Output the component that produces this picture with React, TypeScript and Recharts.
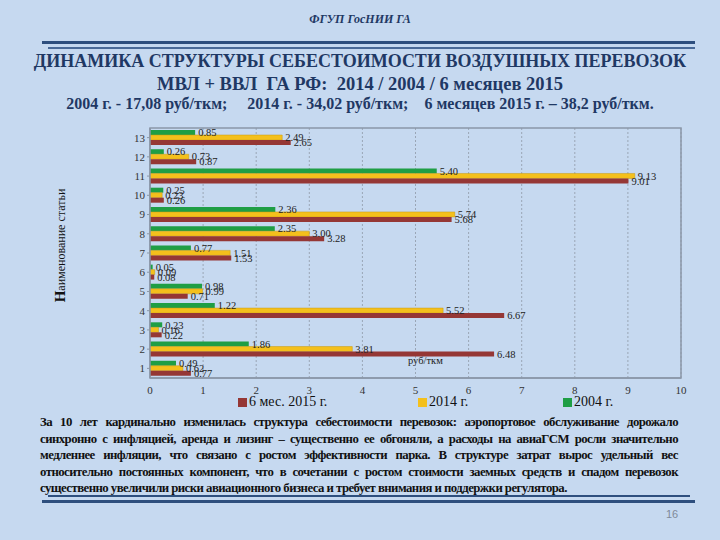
import React from 'react';
import { BarChart, Bar, XAxis, YAxis, CartesianGrid, LabelList, ReferenceArea } from 'recharts';

const categories = ['1', '2', '3', '4', '5', '6', '7', '8', '9', '10', '11', '12', '13'];
const values2004 = [0.49, 1.86, 0.23, 1.22, 0.98, 0.05, 0.77, 2.35, 2.36, 0.25, 5.4, 0.26, 0.85];
const values2014 = [0.62, 3.81, 0.16, 5.52, 0.99, 0.09, 1.51, 3.0, 5.74, 0.23, 9.13, 0.73, 2.49];
const values2015 = [0.77, 6.48, 0.22, 6.67, 0.71, 0.08, 1.53, 3.28, 5.68, 0.26, 9.01, 0.87, 2.65];
const xTicks = [0, 1, 2, 3, 4, 5, 6, 7, 8, 9, 10];

const legendItems = [
  { label: '6 мес. 2015 г.', color: '#953735' },
  { label: '2014 г.', color: '#f4c01c' },
  { label: '2004 г.', color: '#1f9e45' },
];

const paragraphLines = [
  'За 10 лет кардинально изменилась структура себестоимости перевозок: аэропортовое обслуживание дорожало',
  'синхронно с инфляцией, аренда и лизинг – существенно ее обгоняли, а расходы на авиаГСМ росли значительно',
  'медленнее инфляции, что связано с ростом эффективности парка. В структуре затрат вырос удельный вес',
  'относительно постоянных компонент, что в сочетании с ростом стоимости заемных средств и спадом перевозок',
  'существенно увеличили риски авиационного бизнеса и требует внимания и поддержки регулятора.',
];

const data = categories.map((c, i) => ({
  cat: c,
  v2004: values2004[i],
  v2014: values2014[i],
  v2015: values2015[i],
}));

const serif = '"Liberation Serif", "DejaVu Serif", serif';
const navy = '#1f3864';
const fmt = (v: any) => Number(v).toFixed(2);

export default function App() {
  return (
    <div
      style={{
        position: 'fixed',
        left: 0,
        top: 0,
        width: 720,
        height: 540,
        background: '#c6d9f0',
        fontFamily: serif,
        overflow: 'hidden',
      }}
    >
      <div style={{ position: 'absolute', top: 12, left: 0, width: 720, textAlign: 'center', fontSize: 12, fontStyle: 'italic', fontWeight: 'bold', color: navy }}>
        ФГУП ГосНИИ ГА
      </div>
      <div style={{ position: 'absolute', top: 41, left: 42, width: 653, height: 3, background: '#2e4f7e' }} />
      <div style={{ position: 'absolute', top: 47, left: 48, width: 647, height: 2, background: '#4a6a98' }} />

      <div style={{ position: 'absolute', top: 51, left: 0, width: 720, textAlign: 'center', fontSize: 18, fontWeight: 'bold', color: navy, whiteSpace: 'nowrap' }}>
        ДИНАМИКА СТРУКТУРЫ СЕБЕСТОИМОСТИ ВОЗДУШНЫХ ПЕРЕВОЗОК
      </div>
      <div style={{ position: 'absolute', top: 74, left: 0, width: 720, textAlign: 'center', fontSize: 18.5, fontWeight: 'bold', color: navy, whiteSpace: 'pre' }}>
        {'МВЛ + ВВЛ  ГА РФ:  2014 / 2004 / 6 месяцев 2015'}
      </div>
      <div style={{ position: 'absolute', top: 95, left: 0, width: 720, textAlign: 'center', fontSize: 16, fontWeight: 'bold', color: navy, whiteSpace: 'pre' }}>
        {'2004 г. - 17,08 руб/ткм;     2014 г. - 34,02 руб/ткм;    6 месяцев 2015 г. – 38,2 руб/ткм.'}
      </div>

      <div style={{ position: 'absolute', left: 0, top: 0 }}>
        <BarChart
          width={720}
          height={420}
          data={data}
          layout="vertical"
          margin={{ top: 128, right: 39, bottom: 22, left: 120 }}
          barCategoryGap={2}
          barGap={0}
        >
          <CartesianGrid horizontal={false} vertical={true} stroke="#9aa6b6" strokeDasharray="2 2" />
          <ReferenceArea x1={0} x2={10} fill="none" stroke="#8b97a8" strokeWidth={1.5} ifOverflow="visible" />
          <XAxis
            type="number"
            domain={[0, 10]}
            ticks={xTicks}
            height={20}
            tick={{ fontSize: 11, fill: '#333', fontFamily: serif }}
            axisLine={{ stroke: '#8b97a8', strokeWidth: 1.5 }}
            tickLine={false}
            tickMargin={2}
          />
          <YAxis
            type="category"
            dataKey="cat"
            reversed
            width={30}
            tick={{ fontSize: 11, fill: '#333', fontFamily: serif }}
            axisLine={{ stroke: '#8b97a8', strokeWidth: 1.5 }}
            tickLine={{ stroke: '#8b97a8' }}
            tickSize={3}
          />
          <Bar dataKey="v2004" fill="#1f9e45" isAnimationActive={false}>
            <LabelList dataKey="v2004" position="right" offset={3} formatter={fmt} style={{ fontSize: 10.5, fill: '#222', fontFamily: serif }} />
          </Bar>
          <Bar dataKey="v2014" fill="#f4c01c" stroke="#c79a10" strokeWidth={0.5} isAnimationActive={false}>
            <LabelList dataKey="v2014" position="right" offset={3} formatter={fmt} style={{ fontSize: 10.5, fill: '#222', fontFamily: serif }} />
          </Bar>
          <Bar dataKey="v2015" fill="#953735" isAnimationActive={false}>
            <LabelList dataKey="v2015" position="right" offset={3} formatter={fmt} style={{ fontSize: 10.5, fill: '#222', fontFamily: serif }} />
          </Bar>
        </BarChart>
      </div>

      <div style={{ position: 'absolute', left: 408, top: 355, fontSize: 10.5, color: '#222' }}>руб/ткм</div>

      <div
        style={{
          position: 'absolute',
          left: 60 - 100,
          top: 245 - 8,
          width: 200,
          textAlign: 'center',
          transform: 'rotate(-90deg)',
          fontSize: 12,
          color: '#111',
          whiteSpace: 'nowrap',
        }}
      >
        <span style={{ fontSize: 15, fontWeight: 'bold' }}>Н</span>аименование статьи
      </div>

      {legendItems.map((it, i) => (
        <div
          key={it.label}
          style={{ position: 'absolute', left: [238, 418, 563][i], top: 394, display: 'flex', alignItems: 'center', fontSize: 14, color: '#111', whiteSpace: 'nowrap' }}
        >
          <span style={{ display: 'inline-block', width: 9, height: 9, background: it.color, marginRight: 2 }} />
          {it.label}
        </div>
      ))}

      <div style={{ position: 'absolute', left: 40, top: 414, width: 638, fontSize: 12.8, letterSpacing: -0.55, fontWeight: 'bold', color: '#111', lineHeight: '16.5px' }}>
        {paragraphLines.map((l, i) => (
          <div key={i} style={{ textAlign: 'justify', textAlignLast: i < paragraphLines.length - 1 ? 'justify' : 'left', whiteSpace: 'nowrap' }}>
            {l}
          </div>
        ))}
      </div>

      <div style={{ position: 'absolute', top: 495, left: 48, width: 642, height: 2, background: '#2e4f7e' }} />
      <div style={{ position: 'absolute', top: 500, left: 42, width: 653, height: 3, background: '#2e4f7e' }} />

      <div style={{ position: 'absolute', top: 508, left: 666, fontSize: 11, color: '#7f8a99', fontFamily: '"Liberation Sans", sans-serif' }}>16</div>
    </div>
  );
}
